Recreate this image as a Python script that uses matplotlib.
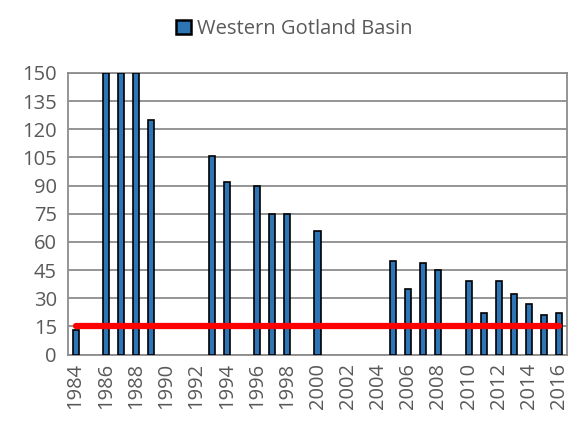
import numpy as np
import matplotlib.pyplot as plt
from matplotlib.patches import Patch

years = list(range(1984, 2017))
values = [13, None, 150, 150, 150, 125, None, None, None, 106, 92, None, 90, 75, 75,
          None, 66, None, None, None, None, 50, 35, 49, 45, None, 39, 22, 39, 32, 27, 21, 22]
target = 15

plt.rcParams['font.family'] = ['Open Sans', 'DejaVu Sans']

fig = plt.figure(figsize=(5.7, 4.24), dpi=100)
ax = fig.add_axes([68 / 570, 1 - 354.5 / 424, 499 / 570, 281.5 / 424])

x = np.arange(len(years))
bx = [i for i, v in zip(x, values) if v is not None]
bh = [v for v in values if v is not None]
ax.bar(bx, bh, width=0.4, color='#2E75B6', edgecolor='black', linewidth=1.2, zorder=3)
ax.plot([x[0], x[-1]], [target, target], color='#FF0000', linewidth=4.5,
        solid_capstyle='round', zorder=4)

ax.set_xlim(-0.5, len(years) - 0.5)
ax.set_ylim(0, 150)
ax.set_yticks(np.arange(0, 151, 15))
ax.yaxis.grid(True, color='#8c8c8c', linewidth=1.3, zorder=0)
ax.set_xticks(x[::2])
ax.set_xticklabels([str(y) for y in years[::2]], rotation=90)
ax.tick_params(axis='both', colors='#595959', labelsize=14.5, length=0)
ax.tick_params(axis='x', pad=6)
ax.tick_params(axis='y', pad=8)
for s in ax.spines.values():
    s.set_color('#8c8c8c')
    s.set_linewidth(1.3)

fig.legend(handles=[Patch(facecolor='#2E75B6', edgecolor='black', linewidth=1.8,
                          label='Western Gotland Basin')],
           loc='center', bbox_to_anchor=(294 / 570, 1 - 29 / 424), frameon=False,
           fontsize=14.5, labelcolor='#595959', handlelength=0.75, handleheight=0.75,
           handletextpad=0.3)

fig.savefig('out.png', dpi=100)
